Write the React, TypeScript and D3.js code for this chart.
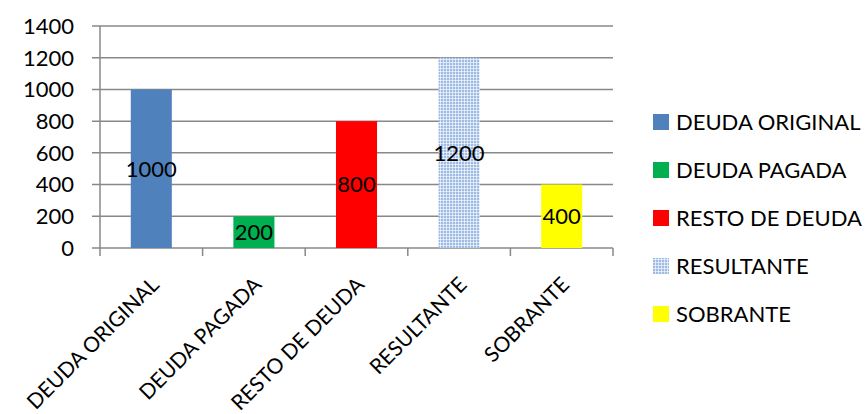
import React from "react";
import * as d3 from "d3";

const categories = ["DEUDA ORIGINAL", "DEUDA PAGADA", "RESTO DE DEUDA", "RESULTANTE", "SOBRANTE"];
const values = [1000, 200, 800, 1200, 400];
const colors = ["#4F81BD", "#00B050", "#FF0000", "url(#checker)", "#FFFF00"];
const yTicks = [0, 200, 400, 600, 800, 1000, 1200, 1400];

const W = 867, H = 414;
const plot = { left: 100, right: 613, top: 26, bottom: 248 };
const FONT = "Lato, 'Open Sans', sans-serif";

export default function App() {
  const x = d3.scaleBand<string>().domain(categories).range([plot.left, plot.right]).paddingInner(0).paddingOuter(0);
  const y = d3.scaleLinear().domain([0, 1400]).range([plot.bottom, plot.top]);
  const bw = x.bandwidth() * 0.4;
  const grid = "#888888";
  return (
    <svg width={W} height={H} style={{ position: "absolute", left: 0, top: 0, background: "#fff" }} fontFamily={FONT}>
      <defs>
        <pattern id="checker" width="3" height="3" patternUnits="userSpaceOnUse">
          <rect width="3" height="3" fill="#9dbbe3" />
          <rect x="2" y="0" width="1" height="3" fill="#d8e4f4" />
          <rect x="0" y="2" width="3" height="1" fill="#d8e4f4" />
          <rect x="2" y="2" width="1" height="1" fill="#f2f6fb" />
        </pattern>
      </defs>
      {yTicks.map((t) => (
        <g key={t}>
          <line x1={plot.left - 8} x2={plot.right} y1={y(t)} y2={y(t)} stroke={grid} strokeWidth={1.5} />
          <text x={74} y={y(t)} dy="0.36em" textAnchor="end" fontSize={22} fill="#000">{t}</text>
        </g>
      ))}
      <line x1={plot.left} x2={plot.left} y1={plot.top} y2={plot.bottom + 8} stroke={grid} strokeWidth={1.5} />
      {categories.map((c, i) => (
        <line key={"t" + i} x1={(x(c) as number) + x.bandwidth()} x2={(x(c) as number) + x.bandwidth()} y1={plot.bottom} y2={plot.bottom + 8} stroke={grid} strokeWidth={1.5} />
      ))}
      {categories.map((c, i) => {
        const cx = (x(c) as number) + x.bandwidth() / 2;
        return (
          <g key={"b" + i}>
            <rect x={cx - bw / 2} y={y(values[i])} width={bw} height={y(0) - y(values[i])} fill={colors[i]} />
            <text x={cx} y={(y(values[i]) + y(0)) / 2} dy="0.36em" textAnchor="middle" fontSize={22} fill="#000">{values[i]}</text>
          </g>
        );
      })}
      {categories.map((c, i) => {
        const cx = (x(c) as number) + x.bandwidth() / 2;
        return (
          <text key={"x" + i} transform={`translate(${cx + 9},${plot.bottom + 38}) rotate(-45)`} textAnchor="end" fontSize={21} fill="#000">{c}</text>
        );
      })}
      {categories.map((c, i) => (
        <g key={"l" + i} transform={`translate(653,${122 + i * 48})`}>
          <rect x={0} y={-8} width={16} height={16} fill={colors[i]} />
          <text x={23} y={0} dy="0.36em" fontSize={22} fill="#000">{c}</text>
        </g>
      ))}
    </svg>
  );
}
